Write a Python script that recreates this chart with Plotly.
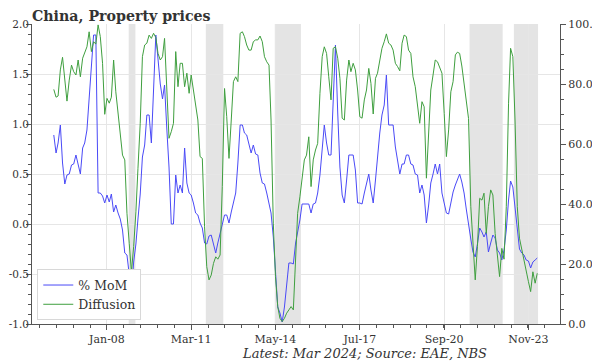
import plotly.graph_objects as go
import pandas as pd

# Monthly observations, Jan 2006 .. Mar 2024
months = pd.date_range("2006-01-01", "2024-03-01", freq="MS")

mom = [
    0.89, 0.71, 0.81, 0.99, 0.61, 0.40, 0.49, 0.50, 0.59, 0.60, 0.69, 0.61,
    0.50, 0.76, 0.81, 0.94, 1.24, 1.51, 1.89, 1.89, 0.31, 0.31, 0.28, 0.21,
    0.29, 0.22, 0.30, 0.12, 0.19, 0.11, 0.05, -0.06, -0.29, -0.31, -0.53, -0.69,
    -0.38, -0.20, 0.05, 0.30, 0.67, 0.79, 1.09, 1.09, 0.81, 1.30, 1.89, 1.65,
    1.40, 1.25, 1.39, 0.95, 0.57, 0.00, 0.00, 0.49, 0.31, 0.39, 0.31, 0.76,
    0.41, 0.31, 0.29, 0.21, 0.11, 0.09, 0.01, -0.04, -0.19, -0.20, -0.12, -0.11,
    -0.20, -0.29, -0.19, -0.09, 0.00, 0.09, 0.09, 0.01, 0.12, 0.22, 0.31, 0.61,
    0.99, 0.99, 0.91, 0.89, 0.79, 0.71, 0.79, 0.70, 0.69, 0.51, 0.41, 0.40,
    0.31, 0.21, 0.11, -0.13, -0.49, -0.83, -0.89, -0.98, -0.83, -0.63, -0.39, -0.39,
    -0.40, -0.19, -0.09, 0.04, 0.20, 0.20, 0.20, 0.20, 0.11, 0.20, 0.21, 0.31,
    0.49, 0.74, 0.99, 0.81, 0.69, 0.69, 1.24, 1.79, 1.11, 0.57, 0.29, 0.21,
    0.44, 0.69, 0.69, 0.69, 0.54, 0.21, 0.21, 0.20, 0.31, 0.41, 0.50, 0.34,
    0.21, 0.44, 0.71, 0.91, 1.09, 1.19, 1.49, 0.99, 0.99, 0.99, 0.77, 0.61,
    0.50, 0.60, 0.60, 0.69, 0.69, 0.60, 0.59, 0.50, 0.49, 0.31, 0.39, 0.29,
    0.01, 0.19, 0.41, 0.50, 0.60, 0.50, 0.60, 0.31, 0.21, 0.11, 0.10, 0.21,
    0.32, 0.39, 0.44, 0.50, 0.42, 0.31, 0.15, -0.03, -0.15, -0.28, -0.33, -0.20,
    -0.04, -0.08, -0.13, -0.08, -0.28, -0.19, -0.11, -0.14, -0.26, -0.29, -0.36, -0.26,
    -0.06, 0.24, 0.43, 0.37, 0.17, -0.03, -0.25, -0.29, -0.31, -0.36, -0.37, -0.44,
    -0.38, -0.36, -0.34,
]

diffusion = [
    78.2, 75.6, 76.0, 84.7, 88.9, 82.4, 74.3, 81.3, 86.3, 84.1, 83.0, 88.0,
    82.4, 88.6, 90.8, 92.4, 97.4, 90.8, 94.1, 93.3, 99.7, 95.8, 86.9, 69.9,
    75.2, 73.6, 75.6, 88.0, 77.4, 70.2, 63.0, 56.3, 54.7, 36.9, 26.9, 17.4,
    25.8, 37.4, 51.9, 66.9, 89.1, 93.0, 93.6, 96.3, 95.2, 96.9, 95.5, 90.2,
    88.0, 89.1, 95.2, 79.1, 61.9, 64.1, 66.9, 90.8, 79.1, 86.9, 86.9, 79.1,
    83.6, 76.9, 83.0, 78.0, 73.6, 68.0, 55.8, 55.2, 32.4, 19.1, 14.7, 16.3,
    20.2, 22.4, 21.6, 23.0, 45.8, 78.5, 69.1, 55.2, 68.0, 80.8, 82.4, 80.8,
    96.9, 97.4, 95.8, 93.0, 91.3, 91.3, 94.1, 94.7, 94.7, 96.0, 94.1, 89.1,
    87.4, 86.3, 68.0, 33.6, 15.8, 5.8, 1.9, 0.8, 1.9, 3.6, 4.7, 5.8,
    4.7, 24.7, 36.9, 42.4, 48.0, 54.7, 56.3, 62.4, 45.8, 54.7, 58.0, 60.2,
    76.9, 89.1, 92.4, 90.2, 82.4, 74.7, 91.9, 92.4, 88.6, 81.9, 68.6, 68.0,
    81.3, 88.0, 84.1, 86.9, 84.7, 78.0, 69.1, 68.6, 74.7, 78.0, 85.2, 80.2,
    70.0, 81.9, 83.6, 88.0, 91.9, 94.1, 96.7, 93.6, 93.0, 91.3, 86.9, 85.8,
    84.4, 93.6, 96.3, 95.8, 91.3, 90.2, 82.4, 79.1, 73.6, 66.9, 74.1, 72.4,
    48.6, 64.7, 78.0, 83.0, 88.0, 87.4, 85.8, 83.6, 70.2, 55.8, 64.7, 77.4,
    80.8, 89.7, 90.6, 90.2, 86.0, 80.0, 74.0, 68.5, 39.1, 24.7, 14.7, 25.8,
    41.9, 41.3, 43.6, 30.2, 39.1, 44.7, 43.0, 30.2, 23.6, 15.8, 25.2, 21.6,
    39.1, 73.6, 91.9, 89.1, 68.0, 39.1, 28.6, 24.7, 21.9, 18.0, 14.1, 10.8,
    17.4, 13.6, 16.9,
]

shade_start = ["2008-10-25", "2011-09-18", "2014-04-21", "2021-08-15", "2023-04-15"]
shade_end = ["2009-01-25", "2012-05-15", "2015-04-15", "2022-11-12", "2024-03-12"]

tick_dates = ["2008-01-01", "2011-03-01", "2014-05-01", "2017-07-01", "2020-09-01", "2023-11-01"]
tick_labels = ["Jan-08", "Mar-11", "May-14", "Jul-17", "Sep-20", "Nov-23"]

left_ticks = [-1.0, -0.5, 0.0, 0.5, 1.0, 1.5, 2.0]
left_labels = ["-1.0", "-0.5", "0.0", "0.5", "1.0", "1.5", "2.0"]
right_ticks = [0, 20, 40, 60, 80, 100]
right_labels = ["0.0", "20.0", "40.0", "60.0", "80.0", "100.0"]

x_range = ["2005-03-08", "2025-01-07"]

# minor ticks: five intervals between majors
tk = pd.to_datetime(tick_dates)
step = (tk[1] - tk[0]) / 5
lo, hi = pd.Timestamp(x_range[0]), pd.Timestamp(x_range[1])
minor_vals = []
t = tk[0]
while t - step >= lo:
    t = t - step
while t <= hi:
    if t not in tk:
        minor_vals.append(t.strftime("%Y-%m-%d"))
    t = t + step

BLUE = "#4a4af7"
GREEN = "#3f9f3f"
AX = "#555555"
GRID = "#e6e6e6"
FONT = "DejaVu Serif"

fig = go.Figure()
fig.add_trace(go.Scatter(x=months, y=mom, name="% MoM", mode="lines",
                         line=dict(color=BLUE, width=1)))
fig.add_trace(go.Scatter(x=months, y=diffusion, name="Diffusion", mode="lines",
                         line=dict(color=GREEN, width=1), yaxis="y2"))

for s, e in zip(shade_start, shade_end):
    fig.add_shape(type="rect", xref="x", yref="paper", x0=s, x1=e, y0=0, y1=1,
                  fillcolor="#e4e4e4", line=dict(width=0), layer="below")

# page body adds an 8px margin, so the figure is 8px smaller on each axis
fig.update_layout(
    width=592, height=356,
    margin=dict(l=24, r=40, t=16, b=40, autoexpand=False),
    paper_bgcolor="white", plot_bgcolor="white",
    font=dict(family=FONT, size=11, color="#333333"),
    showlegend=True,
    legend=dict(x=0.01, y=0.012, xanchor="left", yanchor="bottom",
                bgcolor="white", bordercolor="#d8d8d8", borderwidth=1,
                font=dict(family=FONT, size=12.5, color="#333333"),
                itemwidth=30, tracegroupgap=0),
    xaxis=dict(type="date", range=x_range, tickmode="array",
               tickvals=tick_dates, ticktext=tick_labels, automargin=False,
               ticks="outside", ticklen=5, tickcolor=AX, tickwidth=1,
               showline=True, linecolor=AX, linewidth=1,
               showgrid=True, gridcolor=GRID, gridwidth=1, zeroline=False,
               minor=dict(tickmode="array", tickvals=minor_vals, ticks="outside",
                          ticklen=3, tickcolor=AX, showgrid=False)),
    yaxis=dict(range=[-1, 2], tickmode="array", tickvals=left_ticks, ticktext=left_labels,
               automargin=False, ticklabelstandoff=-5,
               tickfont=dict(family=FONT, size=10.5, color="#333333"),
               ticks="outside", ticklen=5, tickcolor=AX,
               showline=True, linecolor=AX, linewidth=1,
               showgrid=True, gridcolor=GRID, zeroline=False,
               minor=dict(dtick=0.1, tick0=0, ticks="outside", ticklen=3, tickcolor=AX, showgrid=False)),
    yaxis2=dict(range=[0, 100], tickmode="array", tickvals=right_ticks, ticktext=right_labels,
                automargin=False, overlaying="y", side="right",
                ticks="outside", ticklen=5, tickcolor=AX,
                showline=True, linecolor=AX, linewidth=1,
                showgrid=False, zeroline=False,
                minor=dict(dtick=5, tick0=0, ticks="outside", ticklen=3, tickcolor=AX, showgrid=False)),
)

fig.add_annotation(text="<b>China, Property prices</b>", xref="paper", yref="paper",
                   x=0, y=1, xanchor="left", yanchor="bottom", yshift=-2, xshift=-2,
                   showarrow=False, font=dict(family=FONT, size=14.2, color="#333333"))
fig.add_annotation(text="<i>Latest: Mar 2024; Source: EAE, NBS</i>", xref="paper", yref="paper",
                   x=0.63, y=0, xanchor="center", yanchor="top", yshift=-20,
                   showarrow=False, font=dict(family=FONT, size=13, color="#333333"))

fig.write_html("out.html")
